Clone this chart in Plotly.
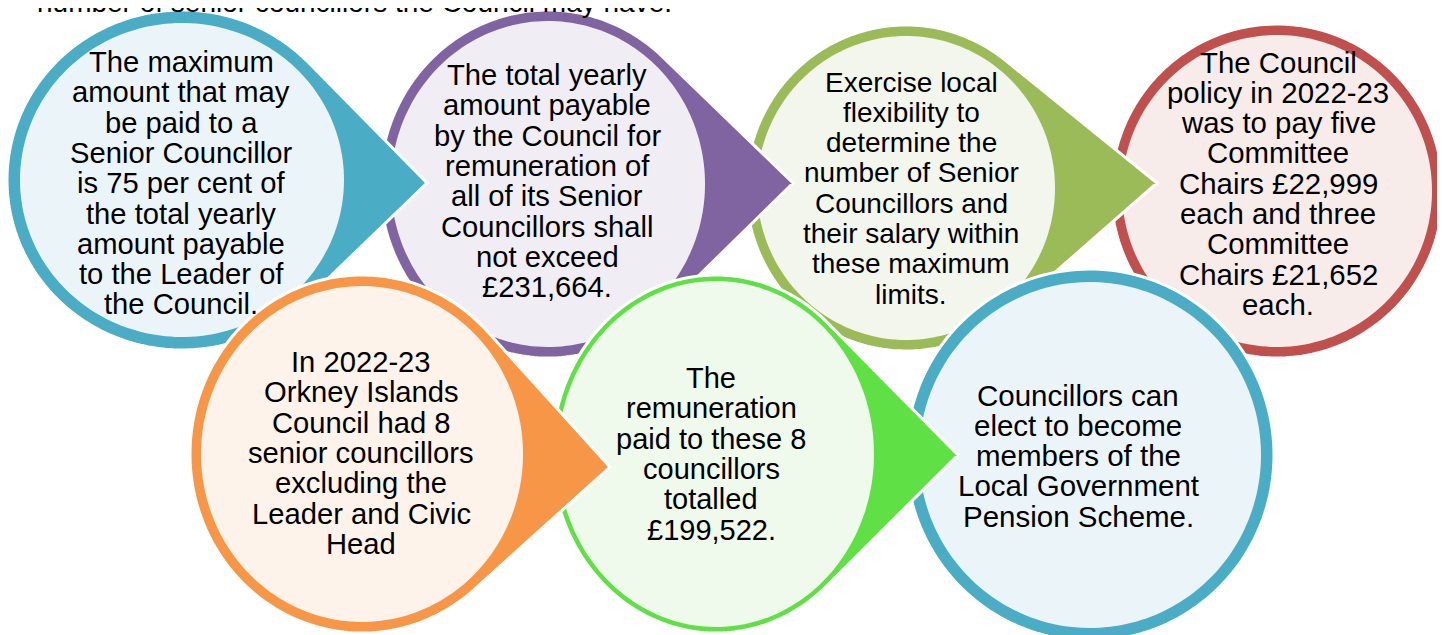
import numpy as np
import plotly.graph_objects as go

# ---- content (text of each bubble) ----
header_text = "number of senior councillors the Council may have."

teal_lines = ["The maximum", "amount that may", "be paid to a", "Senior Councillor",
              "is 75 per cent of", "the total yearly", "amount payable",
              "to the Leader of", "the Council."]
purple_lines = ["The total yearly", "amount payable", "by the Council for",
                "remuneration of", "all of its Senior", "Councillors shall",
                "not exceed", "£231,664."]
olive_lines = ["Exercise local", "flexibility to", "determine the",
               "number of Senior", "Councillors and", "their salary within",
               "these maximum", "limits."]
red_lines = ["The Council", "policy in 2022-23", "was to pay five", "Committee",
             "Chairs £22,999", "each and three", "Committee", "Chairs £21,652",
             "each."]
orange_lines = ["In 2022-23", "Orkney Islands", "Council had 8",
                "senior councillors", "excluding the", "Leader and Civic", "Head"]
green_lines = ["The", "remuneration", "paid to these 8", "councillors",
               "totalled", "£199,522."]
blue_lines = ["Councillors can", "elect to become", "members of the",
              "Local Government", "Pension Scheme."]

# ---- geometry / style (layout, not data) ----
W, H = 1445, 635
OFF = 8  # page body margin: axis ranges are shifted so coordinates equal page pixels
# (cx, cy, rx, ry, ring, ring colour, fill colour, tip or None, lines, text x, first line y, font size)
bubbles = [
    # top row drawn right to left
    (1277, 191, 166, 167, 11, "#C0504D", "#F8ECEB", None, red_lines, 1278, 62, 29.4),
    (906, 188, 160, 163, 11, "#9BBB59", "#F3F6ED", (1157, 183), olive_lines, 911, 82, 28),
    (548, 184, 168, 174, 11, "#8064A2", "#F0EEF4", (793, 183), purple_lines, 547, 75, 29.2),
    (182, 180, 175, 170, 13, "#4BACC6", "#EBF5F9", (427, 183), teal_lines, 181, 62, 29.2),
    # bottom row drawn right to left
    (1090, 455, 184, 186, 13, "#4BACC6", "#EBF5F9", None, blue_lines, 1078, 395, 29.5),
    (716, 454, 164, 179, 6, "#5FE045", "#EFF9EC", (958, 455), green_lines, 711, 378, 29),
    (362, 454, 172, 179, 11, "#F79646", "#FDF3EA", (610, 467), orange_lines, 361, 362, 29.2),
]
LINE_STEP = 30.3
FONT = "Liberation Sans, Arial"


def ellipse_pts(cx, cy, rx, ry, t0, t1, n=120):
    t = np.linspace(t0, t1, n)
    return cx + rx * np.cos(t), cy + ry * np.sin(t)


def to_path(xs, ys):
    s = "M %.2f %.2f " % (xs[0], ys[0])
    s += " ".join("L %.2f %.2f" % (x, y) for x, y in zip(xs[1:], ys[1:]))
    return s + " Z"


shapes = []
annotations = []
for cx, cy, rx, ry, ring, col, fill, tip, lines, tx, ty0, fs in bubbles:
    if tip is None:
        xs, ys = ellipse_pts(cx, cy, rx, ry, 0, 2 * np.pi, 200)
    else:
        px, py = (tip[0] - cx) / rx, (tip[1] - cy) / ry
        d = np.hypot(px, py)
        a = np.arctan2(py, px)
        da = np.arccos(1.0 / d)
        ex, ey = ellipse_pts(cx, cy, rx, ry, a + da, a - da + 2 * np.pi, 200)
        xs = np.concatenate([[tip[0]], ex])
        ys = np.concatenate([[tip[1]], ey])
    shapes.append(dict(type="path", path=to_path(xs, ys), xref="x", yref="y",
                       fillcolor=col, line=dict(color="white", width=3), layer="above"))
    ix, iy = ellipse_pts(cx, cy, rx - ring, ry - ring, 0, 2 * np.pi, 200)
    shapes.append(dict(type="path", path=to_path(ix, iy), xref="x", yref="y",
                       fillcolor=fill, line=dict(width=0), layer="above"))
    for i, ln in enumerate(lines):
        annotations.append(dict(x=tx, y=ty0 + i * LINE_STEP, xref="x", yref="y",
                                text=ln, showarrow=False, xanchor="center",
                                yanchor="middle",
                                font=dict(family=FONT, size=fs, color="black")))

annotations.append(dict(x=35, y=1, xref="x", yref="paper", text=header_text,
                        showarrow=False, xanchor="left", yanchor="middle", yshift=6,
                        font=dict(family=FONT, size=28, color="black")))

fig = go.Figure()
fig.update_layout(
    width=W, height=H, margin=dict(l=0, r=0, t=0, b=0),
    paper_bgcolor="white", plot_bgcolor="white",
    xaxis=dict(range=[OFF, W + OFF], visible=False, fixedrange=True),
    yaxis=dict(range=[H + OFF, OFF], visible=False, fixedrange=True),
    shapes=shapes, annotations=annotations, showlegend=False,
)
fig.write_html("out.html")
